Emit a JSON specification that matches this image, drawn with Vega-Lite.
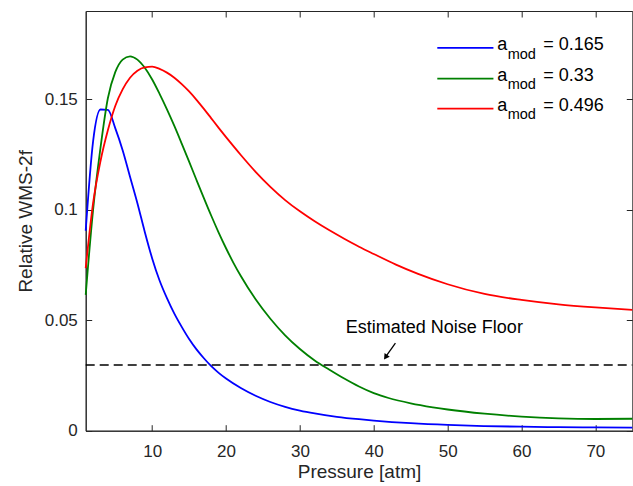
{
  "$schema": "https://vega.github.io/schema/vega-lite/v6.json",
  "width": 546.6,
  "height": 419.7,
  "autosize": {"type": "none"},
  "padding": {"left": 85.7, "top": 11, "right": 0.7, "bottom": 55.3},
  "background": "white",
  "config": {
    "view": {"stroke": "#262626", "strokeWidth": 1},
    "font": "Liberation Sans",
    "axis": {
      "grid": false,
      "domainColor": "#262626",
      "tickColor": "#262626",
      "labelColor": "#262626",
      "titleColor": "#262626",
      "labelFont": "Liberation Sans",
      "titleFont": "Liberation Sans",
      "labelFontSize": 17,
      "titleFontSize": 19,
      "titleFontWeight": "normal",
      "tickSize": -6,
      "domainWidth": 1,
      "tickWidth": 1
    }
  },
  "datasets": {
    "curves": [
      {"a": "0.165", "p": 1, "v": 0.0905}, {"a": "0.165", "p": 2, "v": 0.131}, {"a": "0.165", "p": 3, "v": 0.1454}, {"a": "0.165", "p": 4, "v": 0.1452},
      {"a": "0.165", "p": 5, "v": 0.137}, {"a": "0.165", "p": 6, "v": 0.127}, {"a": "0.165", "p": 7, "v": 0.115}, {"a": "0.165", "p": 8, "v": 0.103},
      {"a": "0.165", "p": 9, "v": 0.09}, {"a": "0.165", "p": 10, "v": 0.078}, {"a": "0.165", "p": 11, "v": 0.068}, {"a": "0.165", "p": 12, "v": 0.06},
      {"a": "0.165", "p": 13, "v": 0.053}, {"a": "0.165", "p": 14, "v": 0.047}, {"a": "0.165", "p": 15, "v": 0.0415}, {"a": "0.165", "p": 16, "v": 0.0368},
      {"a": "0.165", "p": 17, "v": 0.0328}, {"a": "0.165", "p": 18, "v": 0.0292}, {"a": "0.165", "p": 19, "v": 0.0262}, {"a": "0.165", "p": 20, "v": 0.0236},
      {"a": "0.165", "p": 22, "v": 0.0193}, {"a": "0.165", "p": 24, "v": 0.0158}, {"a": "0.165", "p": 26, "v": 0.013}, {"a": "0.165", "p": 28, "v": 0.0108},
      {"a": "0.165", "p": 30, "v": 0.0091}, {"a": "0.165", "p": 32, "v": 0.0078}, {"a": "0.165", "p": 35, "v": 0.0063}, {"a": "0.165", "p": 38, "v": 0.0052},
      {"a": "0.165", "p": 40, "v": 0.0046}, {"a": "0.165", "p": 45, "v": 0.0034}, {"a": "0.165", "p": 50, "v": 0.0026}, {"a": "0.165", "p": 55, "v": 0.0021},
      {"a": "0.165", "p": 60, "v": 0.0018}, {"a": "0.165", "p": 65, "v": 0.0016}, {"a": "0.165", "p": 70, "v": 0.0015}, {"a": "0.165", "p": 75, "v": 0.0014},

      {"a": "0.33", "p": 1, "v": 0.0615}, {"a": "0.33", "p": 2, "v": 0.1}, {"a": "0.33", "p": 3, "v": 0.128}, {"a": "0.33", "p": 4, "v": 0.1505},
      {"a": "0.33", "p": 5, "v": 0.1623}, {"a": "0.33", "p": 6, "v": 0.168}, {"a": "0.33", "p": 7, "v": 0.1695}, {"a": "0.33", "p": 8, "v": 0.168},
      {"a": "0.33", "p": 9, "v": 0.1643}, {"a": "0.33", "p": 10, "v": 0.159}, {"a": "0.33", "p": 11, "v": 0.1525}, {"a": "0.33", "p": 12, "v": 0.1455},
      {"a": "0.33", "p": 13, "v": 0.138}, {"a": "0.33", "p": 14, "v": 0.13}, {"a": "0.33", "p": 15, "v": 0.1218}, {"a": "0.33", "p": 16, "v": 0.1135},
      {"a": "0.33", "p": 17, "v": 0.1053}, {"a": "0.33", "p": 18, "v": 0.0973}, {"a": "0.33", "p": 19, "v": 0.0897}, {"a": "0.33", "p": 20, "v": 0.0826},
      {"a": "0.33", "p": 21, "v": 0.076}, {"a": "0.33", "p": 22, "v": 0.07}, {"a": "0.33", "p": 24, "v": 0.0595}, {"a": "0.33", "p": 26, "v": 0.0507},
      {"a": "0.33", "p": 28, "v": 0.0432}, {"a": "0.33", "p": 30, "v": 0.037}, {"a": "0.33", "p": 32, "v": 0.0318}, {"a": "0.33", "p": 34, "v": 0.0276},
      {"a": "0.33", "p": 36, "v": 0.0236}, {"a": "0.33", "p": 38, "v": 0.02}, {"a": "0.33", "p": 40, "v": 0.017}, {"a": "0.33", "p": 42, "v": 0.0148},
      {"a": "0.33", "p": 45, "v": 0.0124}, {"a": "0.33", "p": 48, "v": 0.0106}, {"a": "0.33", "p": 50, "v": 0.0096}, {"a": "0.33", "p": 55, "v": 0.0077},
      {"a": "0.33", "p": 60, "v": 0.0064}, {"a": "0.33", "p": 65, "v": 0.0056}, {"a": "0.33", "p": 70, "v": 0.0053}, {"a": "0.33", "p": 75, "v": 0.0054},

      {"a": "0.496", "p": 1, "v": 0.0736}, {"a": "0.496", "p": 2, "v": 0.103}, {"a": "0.496", "p": 3, "v": 0.122}, {"a": "0.496", "p": 4, "v": 0.136},
      {"a": "0.496", "p": 5, "v": 0.147}, {"a": "0.496", "p": 6, "v": 0.1545}, {"a": "0.496", "p": 7, "v": 0.1598}, {"a": "0.496", "p": 8, "v": 0.163},
      {"a": "0.496", "p": 9, "v": 0.1645}, {"a": "0.496", "p": 10, "v": 0.1648}, {"a": "0.496", "p": 11, "v": 0.1638}, {"a": "0.496", "p": 12, "v": 0.1621},
      {"a": "0.496", "p": 13, "v": 0.1598}, {"a": "0.496", "p": 14, "v": 0.1569}, {"a": "0.496", "p": 15, "v": 0.1536}, {"a": "0.496", "p": 16, "v": 0.1498},
      {"a": "0.496", "p": 17, "v": 0.1457}, {"a": "0.496", "p": 18, "v": 0.1414}, {"a": "0.496", "p": 19, "v": 0.1371}, {"a": "0.496", "p": 20, "v": 0.1329},
      {"a": "0.496", "p": 21, "v": 0.1288}, {"a": "0.496", "p": 22, "v": 0.1248}, {"a": "0.496", "p": 24, "v": 0.1172}, {"a": "0.496", "p": 26, "v": 0.1104},
      {"a": "0.496", "p": 28, "v": 0.1044}, {"a": "0.496", "p": 30, "v": 0.0993}, {"a": "0.496", "p": 32, "v": 0.0948}, {"a": "0.496", "p": 34, "v": 0.0907},
      {"a": "0.496", "p": 36, "v": 0.0869}, {"a": "0.496", "p": 38, "v": 0.0833}, {"a": "0.496", "p": 40, "v": 0.08}, {"a": "0.496", "p": 43, "v": 0.0752},
      {"a": "0.496", "p": 46, "v": 0.071}, {"a": "0.496", "p": 50, "v": 0.0663}, {"a": "0.496", "p": 55, "v": 0.0619}, {"a": "0.496", "p": 60, "v": 0.0592},
      {"a": "0.496", "p": 65, "v": 0.0572}, {"a": "0.496", "p": 70, "v": 0.0558}, {"a": "0.496", "p": 75, "v": 0.0547}
    ]
  },
  "layer": [
    {
      "data": {"name": "curves"},
      "mark": {"type": "line", "interpolate": "monotone", "strokeWidth": 1.8},
      "encoding": {
        "x": {
          "field": "p", "type": "quantitative",
          "scale": {"domain": [1, 75], "nice": false, "zero": false},
          "axis": {"orient": "bottom", "values": [10, 20, 30, 40, 50, 60, 70], "title": "Pressure [atm]", "labelPadding": 19, "titlePadding": 3}
        },
        "y": {
          "field": "v", "type": "quantitative",
          "scale": {"domain": [0, 0.19], "nice": false, "zero": true},
          "axis": {"orient": "left", "values": [0, 0.05, 0.1, 0.15], "format": "~g", "title": "Relative WMS-2f", "labelPadding": 14.4, "titlePadding": 9}
        },
        "color": {
          "field": "a", "type": "nominal",
          "scale": {"domain": ["0.165", "0.33", "0.496"], "range": ["#0000ff", "#008000", "#ff0000"]},
          "legend": null
        }
      }
    },
    {
      "data": {"values": [{}]},
      "mark": {"type": "rule", "strokeDash": [9, 5], "strokeWidth": 1.5, "color": "black"},
      "encoding": {
        "x": {"datum": 1, "type": "quantitative", "axis": {"orient": "top", "values": [10, 20, 30, 40, 50, 60, 70], "labels": false, "title": null, "domain": false}},
        "x2": {"datum": 75},
        "y": {"datum": 0.0297, "type": "quantitative", "axis": {"orient": "right", "values": [0, 0.05, 0.1, 0.15], "labels": false, "title": null, "domain": false}}
      }
    },
    {
      "data": {"values": [{}]},
      "mark": {"type": "text", "text": "Estimated Noise Floor", "fontSize": 18, "align": "center", "baseline": "alphabetic", "color": "black", "font": "Liberation Sans"},
      "encoding": {
        "x": {"datum": 48.2, "type": "quantitative", "axis": null},
        "y": {"datum": 0.0441, "type": "quantitative", "axis": null}
      }
    },
    {
      "data": {"values": [{}]},
      "mark": {"type": "rule", "strokeWidth": 1.3, "color": "black"},
      "encoding": {
        "x": {"datum": 42.93, "type": "quantitative", "axis": null},
        "y": {"datum": 0.0396, "type": "quantitative", "axis": null},
        "x2": {"datum": 41.6},
        "y2": {"datum": 0.0334}
      }
    },
    {
      "data": {"values": [{}]},
      "mark": {"type": "point", "shape": "triangle-up", "filled": true, "color": "black", "size": 40, "angle": 215, "opacity": 1},
      "encoding": {
        "x": {"datum": 41.6, "type": "quantitative", "axis": null},
        "y": {"datum": 0.0333, "type": "quantitative", "axis": null}
      }
    },
    {
      "data": {"values": [{}]},
      "mark": {"type": "rule", "strokeWidth": 1.8, "color": "#0000ff"},
      "encoding": {"x": {"datum": 48.6, "type": "quantitative", "axis": null}, "x2": {"datum": 56.2}, "y": {"datum": 0.1733, "type": "quantitative", "axis": null}}
    },
    {
      "data": {"values": [{}]},
      "mark": {"type": "rule", "strokeWidth": 1.8, "color": "#008000"},
      "encoding": {"x": {"datum": 48.6, "type": "quantitative", "axis": null}, "x2": {"datum": 56.2}, "y": {"datum": 0.1594, "type": "quantitative", "axis": null}}
    },
    {
      "data": {"values": [{}]},
      "mark": {"type": "rule", "strokeWidth": 1.8, "color": "#ff0000"},
      "encoding": {"x": {"datum": 48.6, "type": "quantitative", "axis": null}, "x2": {"datum": 56.2}, "y": {"datum": 0.1458, "type": "quantitative", "axis": null}}
    },
    {
      "data": {"values": [{"y": 0.1733, "t": "= 0.165"}, {"y": 0.1594, "t": "= 0.33"}, {"y": 0.1458, "t": "= 0.496"}]},
      "layer": [
        {
          "mark": {"type": "text", "text": "a", "fontSize": 18, "align": "left", "baseline": "alphabetic", "dy": 2.4, "color": "black", "font": "Liberation Sans"},
          "encoding": {"x": {"datum": 56.7, "type": "quantitative", "axis": null}, "y": {"field": "y", "type": "quantitative", "axis": null}}
        },
        {
          "mark": {"type": "text", "text": "mod", "fontSize": 14.5, "align": "left", "baseline": "alphabetic", "dx": 10.6, "dy": 10.7, "color": "black", "font": "Liberation Sans"},
          "encoding": {"x": {"datum": 56.7, "type": "quantitative", "axis": null}, "y": {"field": "y", "type": "quantitative", "axis": null}}
        },
        {
          "mark": {"type": "text", "fontSize": 18, "align": "left", "baseline": "alphabetic", "dx": 46, "dy": 2.4, "color": "black", "font": "Liberation Sans"},
          "encoding": {"x": {"datum": 56.7, "type": "quantitative", "axis": null}, "y": {"field": "y", "type": "quantitative", "axis": null}, "text": {"field": "t"}}
        }
      ]
    }
  ],
  "resolve": {"axis": {"x": "independent", "y": "independent"}}
}
